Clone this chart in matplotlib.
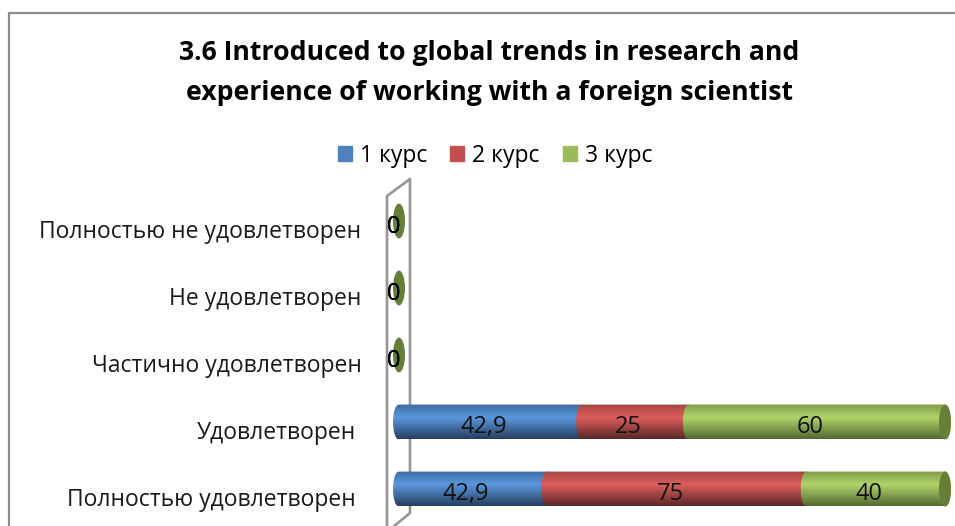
import numpy as np
from matplotlib import pyplot as plt
from matplotlib.colors import LinearSegmentedColormap
from matplotlib.patches import Ellipse, PathPatch, Patch
from matplotlib.path import Path

plt.rcParams['font.family'] = ['Open Sans', 'DejaVu Sans']

title = '3.6 Introduced to global trends in research and\nexperience of working with a foreign scientist'
categories = ['Полностью не удовлетворен', 'Не удовлетворен', 'Частично удовлетворен',
              'Удовлетворен', 'Полностью удовлетворен']
series = ['1 курс', '2 курс', '3 курс']
kurs1 = [0, 0, 0, 42.9, 42.9]
kurs2 = [0, 0, 0, 25, 75]
kurs3 = [0, 0, 0, 60, 40]

colors = ['#4f81bd', '#c0504d', '#9bbb59']
# top, highlight, bottom of the cylinder shading
shades = [['#3f6ca3', '#5b97dd', '#263f60'],
          ['#a54543', '#dd5f5c', '#5a2827'],
          ['#7f9c4a', '#b0d46a', '#536a32']]
cap_color = '#667e37'

W, H = 955, 526
fig = plt.figure(figsize=(W / 100, H / 100), dpi=100)

# chart frame and the 3d wall, in pixels
bg = fig.add_axes([0, 0, 1, 1])
bg.set_xlim(0, W)
bg.set_ylim(H, 0)
bg.axis('off')
bg.plot([9, 9, W], [H, 13, 13], color='#8c8c8c', lw=1.6)
bg.plot([387, 387, 410, 410, 387], [H, 196, 179, 513, 532], color='#969696', lw=1.9)

# x: 0 at 399 px, 1 at 945 px; rows 67 px apart, first at 221 px
pad = 0.015
left = 399 - pad * 546
ax = fig.add_axes([left / W, 1 - 522.5 / H, (1 + 2 * pad) * 546 / W, 335 / H])
ax.patch.set_alpha(0)
ax.axis('off')

rx = 6 / 546
bh = 0.52
values = np.array([kurs1, kurs2, kurs3], dtype=float)
totals = values.sum(axis=0)


def segment(x0, x1, y, shade):
    top, bot = y - bh / 2, y + bh / 2
    k = rx * 1.33
    verts = [(x0, top), (x0 - k, top), (x0 - k, bot), (x0, bot),
             (x1, bot), (x1 + k, bot), (x1 + k, top), (x1, top), (x0, top)]
    codes = [Path.MOVETO, Path.CURVE4, Path.CURVE4, Path.CURVE4,
             Path.LINETO, Path.CURVE4, Path.CURVE4, Path.CURVE4, Path.CLOSEPOLY]
    patch = PathPatch(Path(verts, codes), transform=ax.transData, fc='none', ec='none')
    ax.add_patch(patch)
    cmap = LinearSegmentedColormap.from_list('c', [(0, shade[0]), (0.38, shade[1]), (1, shade[2])])
    im = ax.imshow(np.linspace(0, 1, 64).reshape(-1, 1), cmap=cmap, aspect='auto',
                   extent=(x0 - rx * 1.2, x1 + rx * 1.2, bot, top), zorder=2)
    im.set_clip_path(patch)


for i, cat in enumerate(categories):
    shift = -31 if i >= 3 else -27
    ax.annotate(cat, (0, i), xytext=(shift, -8), textcoords='offset points',
                ha='right', va='center', fontsize=16.5, color='#1a1a1a')
    if totals[i] == 0:
        ax.add_patch(Ellipse((0, i), 2 * rx, bh, fc=cap_color, ec='none', zorder=3))
        for s in range(3):
            ax.annotate('0', (0, i), xytext=(-4, -4.5), textcoords='offset points',
                        ha='center', va='center', fontsize=17, color='black', zorder=6)
        continue
    start = 0
    for s in range(3):
        end = start + values[s, i] / totals[i]
        segment(start, end, i, shades[s])
        ax.annotate(f'{values[s, i]:g}'.replace('.', ','), ((start + end) / 2, i),
                    xytext=(-5, -3.5), textcoords='offset points',
                    ha='center', va='center', fontsize=17, color='#111111', zorder=6)
        start = end
    ax.add_patch(Ellipse((1, i), 2 * rx, bh, fc=cap_color, ec='none', zorder=4))

ax.set_xlim(-pad, 1 + pad)
ax.set_ylim(4.5, -0.5)

fig.text(489 / W, 1 - 73 / H, title, ha='center', va='center', fontsize=19.2,
         fontweight='bold', linespacing=1.68, color='black')
fig.legend(handles=[Patch(color=c, label=n) for c, n in zip(colors, series)],
           loc='center', bbox_to_anchor=(495 / W, 1 - 155.5 / H), ncol=3, frameon=False,
           fontsize=16.5, handlelength=0.62, handleheight=0.62, handletextpad=0.35, columnspacing=1.0)

fig.savefig('out.png', dpi=100)
